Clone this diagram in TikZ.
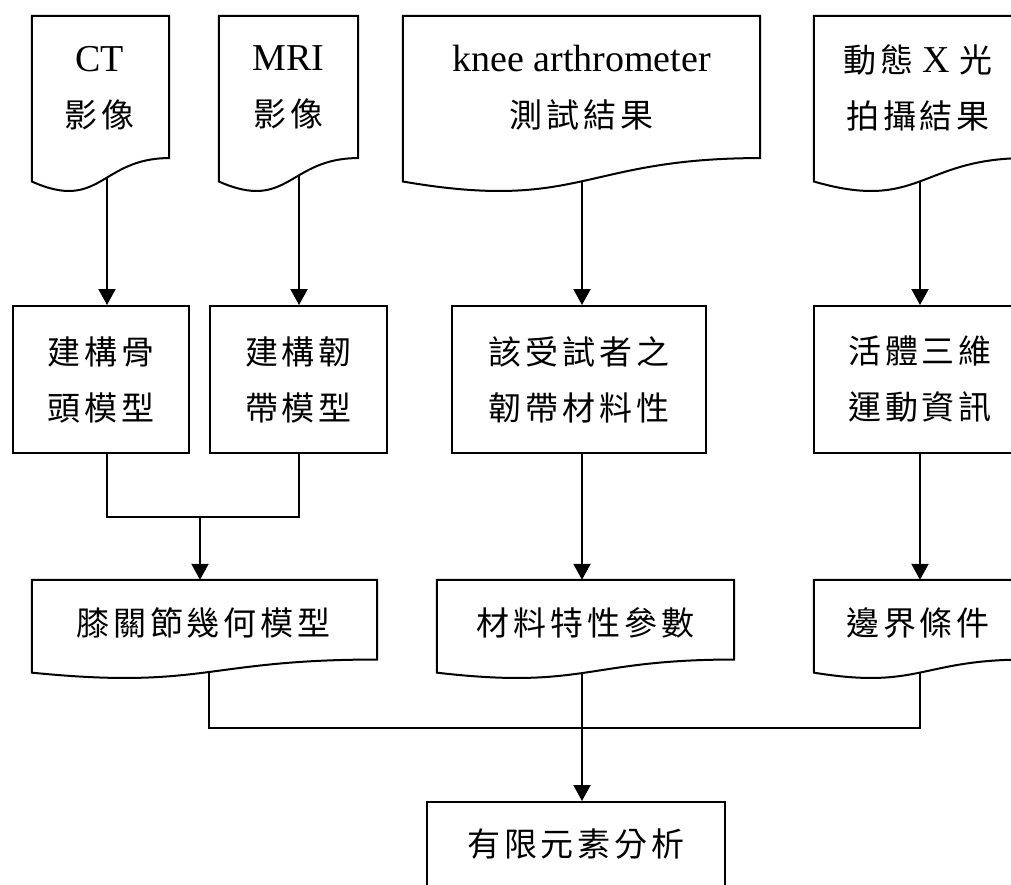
\documentclass[tikz,border=0pt]{standalone}
\usepackage{fontspec}
\setmainfont{Liberation Serif}
\newfontfamily\cjk[LetterSpace=12]{Noto Sans CJK TC}
\usetikzlibrary{arrows.meta,calc}
\newcommand\zh[1]{{\cjk\fontsize{33}{56}\selectfont #1}}
\newcommand\docdraw[1]{%
  \path[ln, fill=white, line join=miter]
    ($(#1.north west)!0.934!(#1.south west)$) -- (#1.north west) -- (#1.north east)
    -- ($(#1.north east)!0.802!(#1.south east)$)
    .. controls ($(#1.north)!0.802!(#1.south)$) and ($(#1.north)!1.108!(#1.south)$)
    .. ($(#1.north west)!0.934!(#1.south west)$) -- cycle;}
\begin{document}
\begin{tikzpicture}[x=1pt,y=-1pt,
  every node/.style={font=\fontsize{38}{56}\selectfont, text=black},
  ln/.style={line width=2pt, draw=black},
  arr/.style={ln, -{Triangle[length=16pt,width=17pt]}},
  box/.style={ln, rectangle, inner sep=0pt, fill=white, align=center},
  docshape/.style={rectangle, inner sep=0pt, draw=none},
  lbl/.style={align=center, inner sep=0pt},
]
\useasboundingbox (0,0) rectangle (1011,884);
\begin{scope}
\clip (0,0) rectangle (1011,884);
% document shapes (invisible frames)
\node[docshape, minimum width=137pt, minimum height=177pt] (ct)   at (100.5,104.5) {};
\node[docshape, minimum width=139pt, minimum height=177pt] (mri)  at (288.5,104.5) {};
\node[docshape, minimum width=357pt, minimum height=177pt] (knee) at (581.5,104.5) {};
\node[docshape, minimum width=212pt, minimum height=177pt] (dyn)  at (920,104.5) {};
\node[docshape, minimum width=345pt, minimum height=99pt] (geo)  at (204.5,629.5) {};
\node[docshape, minimum width=297pt, minimum height=99pt] (mat)  at (585.5,629.5) {};
\node[docshape, minimum width=212pt, minimum height=99pt] (bnd)  at (920,629.5) {};
% process boxes
\node[box, minimum width=176pt, minimum height=147pt] (b1) at (101,379.5) {\zh{建構骨}\\\zh{頭模型}};
\node[box, minimum width=177pt, minimum height=147pt] (b2) at (298.5,379.5) {\zh{建構韌}\\\zh{帶模型}};
\node[box, minimum width=254pt, minimum height=147pt] (b3) at (579,379.5) {\zh{該受試者之}\\\zh{韌帶材料性}};
\node[box, minimum width=212pt, minimum height=147pt] (b4) at (920,379.5) {\zh{活體三維}\\\zh{運動資訊}};
\node[box, minimum width=298pt, minimum height=84pt] (fem) at (576,844) {\zh{有限元素分析}};
% columns and rows
\coordinate (cA) at (107,0);
\coordinate (cB) at (299,0);
\coordinate (cC) at (582,0);
\coordinate (cD) at (920,0);
\coordinate (cM) at (200,0);
\coordinate (cG) at (209,0);
\coordinate (mY) at (0,517);
\coordinate (bY) at (0,728);
% connectors
\draw[arr] (cA |- ct.center) -- (cA |- b1.north);
\draw[arr] (cB |- mri.center) -- (cB |- b2.north);
\draw[arr] (cC |- knee.center) -- (cC |- b3.north);
\draw[arr] (cD |- dyn.center) -- (cD |- b4.north);
\draw[ln] (cA |- b1.south) -- (cA |- mY) -- (cB |- mY) -- (cB |- b2.south);
\draw[arr] (cM |- mY) -- (cM |- geo.north);
\draw[arr] (cC |- b3.south) -- (cC |- mat.north);
\draw[arr] (cD |- b4.south) -- (cD |- bnd.north);
\draw[ln] (cG |- geo.center) -- (cG |- bY) -- (cD |- bY) -- (cD |- bnd.center);
\draw[arr] (cC |- mat.center) -- (cC |- fem.north);
% document outlines
\docdraw{ct}
\docdraw{mri}
\docdraw{knee}
\docdraw{dyn}
\docdraw{geo}
\docdraw{mat}
\docdraw{bnd}
% document labels
\node[lbl] (ctl)   at ($(ct.north)+(-1,72)$)   {CT\\\zh{影像}};
\node[lbl] (mril)  at ($(mri.north)+(0,72)$)   {MRI\\\zh{影像}};
\node[lbl] (kneel) at ($(knee.north)+(0,72)$)  {knee arthrometer\\\zh{測試結果}};
\node[lbl] (dynl)  at ($(dyn.north)+(-2,72)$)  {\zh{動態} X \zh{光}\\\zh{拍攝結果}};
\node[lbl] (geol)  at ($(geo.north)+(-1,43)$)  {\zh{膝關節幾何模型}};
\node[lbl] (matl)  at ($(mat.north)+(0,43)$)   {\zh{材料特性參數}};
\node[lbl] (bndl)  at ($(bnd.north)+(-2,43)$)  {\zh{邊界條件}};
\end{scope}
\end{tikzpicture}
\end{document}
